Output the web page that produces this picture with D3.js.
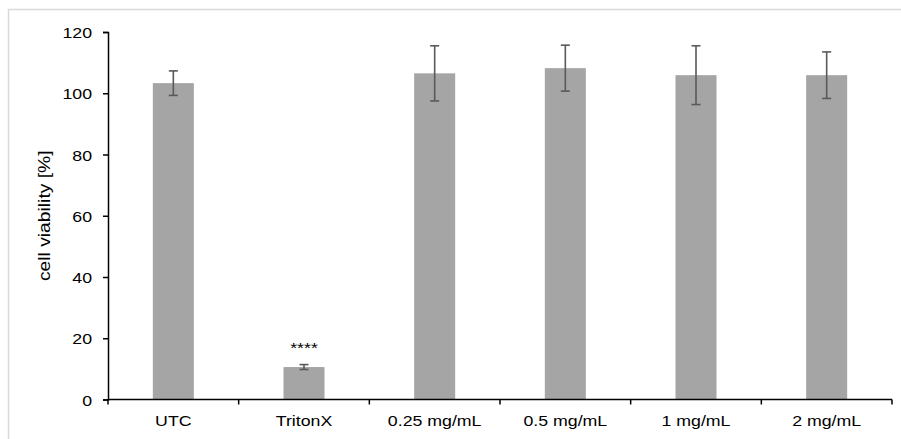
<!DOCTYPE html>
<html>
<head>
<meta charset="utf-8">
<script src="https://cdn.jsdelivr.net/npm/d3@7"></script>
<style>
  html, body { margin: 0; padding: 0; background: #fff; }
  svg { display: block; font-family: "Liberation Sans", Arial, sans-serif; }
</style>
</head>
<body>
<svg id="chart" width="901" height="439"></svg>
<script>
// Cell viability per treatment (mean and standard deviation, %)
const categories = ["UTC", "TritonX", "0.25 mg/mL", "0.5 mg/mL", "1 mg/mL", "2 mg/mL"];
const viability = [103.3, 10.6, 106.5, 108.2, 105.9, 105.9];
const errors = [4.0, 0.8, 9.0, 7.5, 9.6, 7.6];
const significance = ["", "****", "", "", "", ""];
const yTicks = [0, 20, 40, 60, 80, 100, 120];

const svg = d3.select("#chart");
const W = 901, H = 439;
const margin = { left: 108, right: 9, top: 32, bottom: 39.5 };
const FONT = 15.3;     // label font size
const WIDEN = 1.16;    // horizontal widening of the label glyphs

// outer frame
svg.append("rect")
  .attr("x", 8.5).attr("y", 9.5)
  .attr("width", W).attr("height", H)
  .attr("fill", "none").attr("stroke", "#d9d9d9").attr("stroke-width", 1.5);

const x = d3.scaleBand()
  .domain(categories)
  .range([margin.left, W - margin.right])
  .paddingInner(0.686).paddingOuter(0.343);

const xBand = d3.scaleBand().domain(categories).range([margin.left, W - margin.right]);

const y = d3.scaleLinear().domain([0, 120]).range([H - margin.bottom, margin.top]);

// bars
svg.append("g").selectAll("rect")
  .data(categories)
  .join("rect")
  .attr("x", d => x(d))
  .attr("width", x.bandwidth())
  .attr("y", (d, i) => y(viability[i]))
  .attr("height", (d, i) => y(0) - y(viability[i]))
  .attr("fill", "#a5a5a5");

// error bars
const eb = svg.append("g").attr("stroke", "#595959").attr("stroke-width", 1.6);
categories.forEach((c, i) => {
  const cx = x(c) + x.bandwidth() / 2;
  const hi = y(viability[i] + errors[i]);
  const lo = y(viability[i] - errors[i]);
  eb.append("line").attr("x1", cx).attr("x2", cx).attr("y1", hi).attr("y2", lo);
  eb.append("line").attr("x1", cx - 4.5).attr("x2", cx + 4.5).attr("y1", hi).attr("y2", hi);
  eb.append("line").attr("x1", cx - 4.5).attr("x2", cx + 4.5).attr("y1", lo).attr("y2", lo);
});

// significance marks
svg.append("g").selectAll("text")
  .data(categories)
  .join("text")
  .attr("transform", (d, i) =>
    `translate(${x(d) + x.bandwidth() / 2},${y(viability[i] + errors[i]) - 12}) scale(${WIDEN},1)`)
  .attr("text-anchor", "middle")
  .attr("font-size", FONT)
  .attr("fill", "#000")
  .text((d, i) => significance[i]);

// y axis
const yAxis = svg.append("g")
  .attr("transform", `translate(${margin.left},0)`)
  .call(d3.axisLeft(y).tickValues(yTicks).tickSize(5));
yAxis.select(".domain").attr("stroke", "#000").attr("stroke-width", 1.5);
yAxis.selectAll(".tick line").attr("stroke", "#000").attr("stroke-width", 1.5);
yAxis.selectAll(".tick text")
  .attr("x", 0)
  .attr("dy", "0.36em")
  .attr("transform", `translate(-16,0) scale(${WIDEN},1)`)
  .attr("font-size", FONT).attr("fill", "#000")
  .attr("font-family", "Liberation Sans, Arial, sans-serif");

// x axis with boundary ticks between categories
const xAxisG = svg.append("g").attr("transform", `translate(0,${y(0)})`);
xAxisG.append("line")
  .attr("x1", margin.left).attr("x2", W - margin.right)
  .attr("stroke", "#000").attr("stroke-width", 1.5);
const bounds = categories.map(c => xBand(c)).concat([W - margin.right]);
xAxisG.selectAll("line.tk").data(bounds).join("line")
  .attr("class", "tk")
  .attr("x1", d => d).attr("x2", d => d)
  .attr("y1", 0).attr("y2", 5)
  .attr("stroke", "#000").attr("stroke-width", 1.5);
xAxisG.selectAll("text").data(categories).join("text")
  .attr("transform", d => `translate(${xBand(d) + xBand.bandwidth() / 2},26.5) scale(${WIDEN},1)`)
  .attr("text-anchor", "middle")
  .attr("font-size", FONT)
  .attr("fill", "#000")
  .text(d => d);

// y axis title
svg.append("text")
  .attr("transform", `translate(50,${(y(0) + y(120)) / 2}) rotate(-90) scale(1.19,1)`)
  .attr("text-anchor", "middle")
  .attr("font-size", 16.2)
  .attr("fill", "#000")
  .text("cell viability [%]");
</script>
</body>
</html>
